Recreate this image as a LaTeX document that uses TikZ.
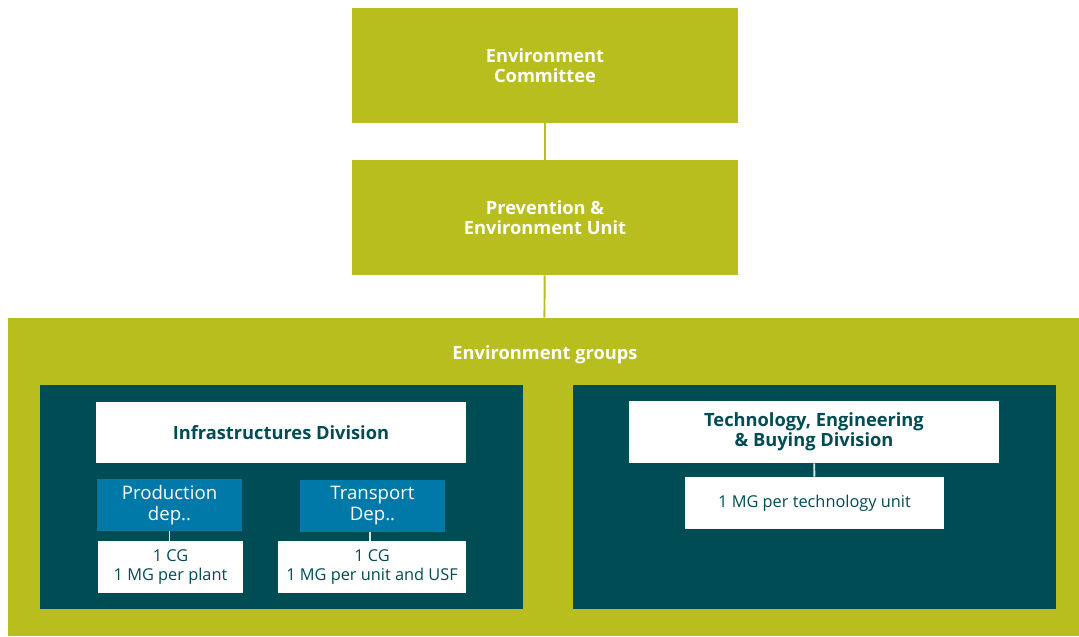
\documentclass[tikz,border=0pt]{standalone}
\usepackage{fontspec}
\setmainfont{Open Sans}
\usepackage{xcolor}

\definecolor{olive}{HTML}{B8BE1E}
\definecolor{petrol}{HTML}{004C55}
\definecolor{azure}{HTML}{0079A8}

\tikzset{
  headbox/.style={fill=olive, text=white, align=center, inner sep=0pt,
    font=\bfseries\fontsize{10.4}{11.6}\selectfont},
  panel/.style={fill=petrol, inner sep=0pt},
  divbox/.style={fill=white, text=petrol, align=center, inner sep=0pt,
    font=\bfseries\fontsize{10.4}{11.6}\selectfont},
  depbox/.style={fill=azure, text=white, align=center, inner sep=0pt,
    font=\fontsize{10.6}{12}\selectfont},
  groupbox/.style={fill=white, text=petrol, align=center, inner sep=0pt,
    font=\fontsize{9.3}{10.8}\selectfont},
  oliveline/.style={draw=olive, line width=1.1pt},
  whiteline/.style={draw=white!85!petrol, line width=1.1pt},
}

\begin{document}
\begin{tikzpicture}[x=0.02cm, y=-0.02cm]
    \useasboundingbox (0, 0) rectangle (1079, 636);

    % top of the chart
    \node[headbox, minimum width=7.72cm, minimum height=2.3cm] (committee) at (545, 65.5) {Environment\\Committee};
    \node[headbox, minimum width=7.72cm, minimum height=2.3cm] (unit) at (545, 217.5) {Prevention \&\\Environment Unit};

    % environment groups
    \node[fill=olive, inner sep=0pt, minimum width=21.42cm, minimum height=6.36cm] (groups) at (543.5, 477) {};
    \node[text=white, font=\bfseries\fontsize{10.4}{11.6}\selectfont] (groupstitle) at (545, 355) {Environment groups};
    \node[panel, minimum width=9.66cm, minimum height=4.48cm] (left) at (281.5, 497) {};
    \node[panel, minimum width=9.66cm, minimum height=4.48cm] (right) at (814.5, 497) {};

    % infrastructures
    \node[divbox, minimum width=7.4cm, minimum height=1.22cm] (infra) at (281, 432.5) {Infrastructures Division};
    \node[depbox, minimum width=2.9cm, minimum height=1.04cm] (prod) at (169.5, 505) {Production\\dep..};
    \node[depbox, minimum width=2.9cm, minimum height=1.04cm] (trans) at (372.5, 506) {Transport\\Dep..};
    \node[groupbox, minimum width=2.9cm, minimum height=1.04cm] (prodgroups) at (170.5, 567) {1 CG\\1 MG per plant};
    \node[groupbox, minimum width=3.76cm, minimum height=1.04cm] (transgroups) at (372, 567) {1 CG\\1 MG per unit and USF};

    % technology
    \node[divbox, minimum width=7.4cm, minimum height=1.24cm] (tech) at (814, 432) {Technology, Engineering\\\& Buying Division};
    \node[groupbox, minimum width=5.18cm, minimum height=1.04cm] (techgroups) at (814.5, 503) {1 MG per technology unit};

    \draw[oliveline] (committee) -- (unit);
    \draw[oliveline] (unit) -- (groups);
    \draw[whiteline] (prod) -- (prod |- prodgroups.north);
    \draw[whiteline] (transgroups.north -| 370, 0) -- (trans.south -| 370, 0);
    \draw[whiteline] (tech) -- (techgroups);
\end{tikzpicture}
\end{document}
